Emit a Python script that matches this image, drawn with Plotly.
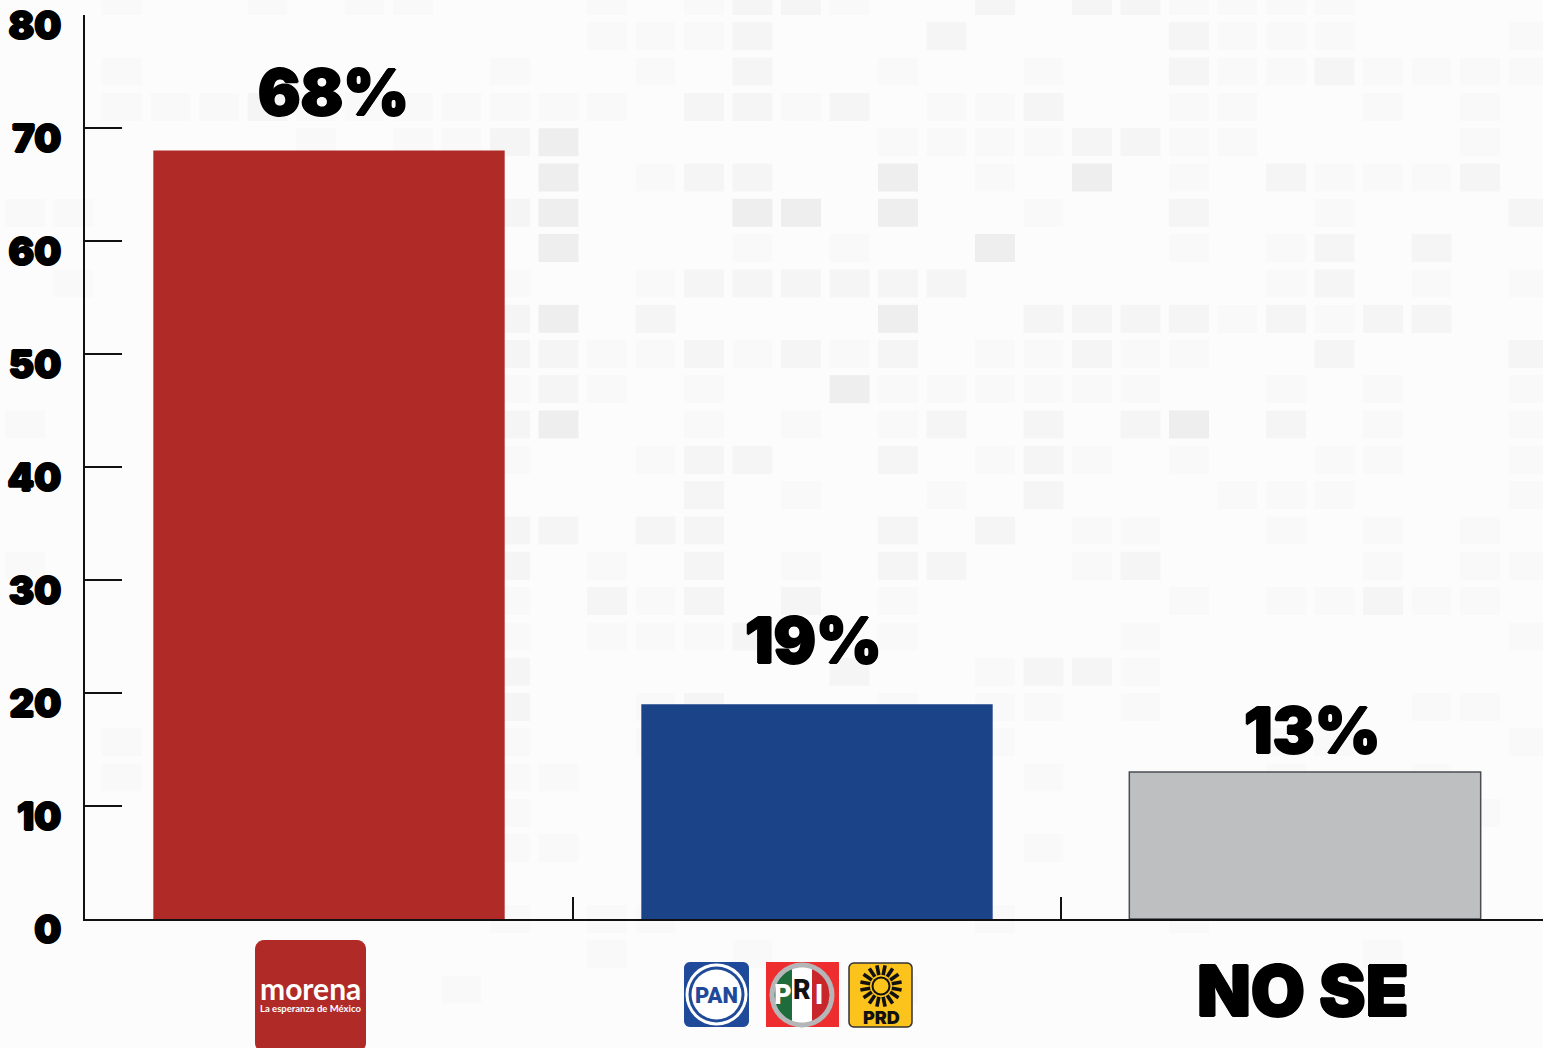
import math
import plotly.graph_objects as go

W, H = 1543, 1048
categories = ["morena", "PAN PRI PRD", "NO SE"]
values = [68, 19, 13]
labels = ["68%", "19%", "13%"]
bar_colors = ["#B02A27", "#1B4388", "#BEBFC1"]
y_ticks = [0, 10, 20, 30, 40, 50, 60, 70, 80]

# faint paper texture: one string per row, one digit per cell (0 = none, 3 = darkest)
texture = [
    "00100101100010122100202211110000",
    "00000000000011120002000021110001",
    "00100000001001020010010021121111",
    "00111211111110221201120011001010",
    "00000010112300000011112211000010",
    "00000000000301220030103010211120",
    "11000000002300033030010020010002",
    "00000000000300010100300010120200",
    "01000000001001222222000000120101",
    "00000000012302000030022221212200",
    "00000000012211212120112110020002",
    "00000000011210100311111100101001",
    "10000000002300101012020230201001",
    "00000000001001220020121010011001",
    "00000000000000201001020001110001",
    "00000000002202200020201100101010",
    "10000000012010201022001200001011",
    "00000000011021202010000010112110",
    "00000000001011120010000100000001",
    "00000000002000000200122100000000",
    "00000000002001200010110100000110",
    "00100000001001201010100000110001",
    "00100000001100110112010000100100",
    "00000000001000100001000000110010",
    "00000000001100000100010000000000",
    "00000000000000000000000000000000",
    "00000000001011000000100010000000",
    "00000000000010010000000000001000",
    "00000000010000100010000001000000",
    "00000000000000000000000000000000",
]
shades = {"1": "#F9F9F9", "2": "#F5F5F5", "3": "#EEEEEE"}

FONT = "Inter"
BLACK = "#000000"
HEAVY = "#000 1px 0 0, #000 -1px 0 0, #000 0 1px 0, #000 0 -1px 0"


def px(x):
    return x / W


def py(y):
    return 1 - y / H


def poly(points, fill, line=None, lw=0):
    d = "M " + " L ".join(f"{px(x):.5f},{py(y):.5f}" for x, y in points) + " Z"
    return dict(type="path", xref="paper", yref="paper", path=d, fillcolor=fill,
                line=dict(color=line or fill, width=lw), layer="above")


def round_rect(x0, y0, x1, y1, r, fill, line=None, lw=0):
    pts = []
    for cx, cy, a0 in [(x1 - r, y0 + r, -90), (x1 - r, y1 - r, 0), (x0 + r, y1 - r, 90), (x0 + r, y0 + r, 180)]:
        for k in range(7):
            a = math.radians(a0 + 15 * k)
            pts.append((cx + r * math.cos(a), cy + r * math.sin(a)))
    return poly(pts, fill, line, lw)


def disc(cx, cy, r, fill):
    return dict(type="circle", xref="paper", yref="paper", x0=px(cx - r), x1=px(cx + r),
                y0=py(cy + r), y1=py(cy - r), fillcolor=fill, line=dict(width=0), layer="above")


def chord(cx, cy, r, xa, xb, fill):
    n = 16
    pts = []
    for i in range(n + 1):
        x = xa + (xb - xa) * i / n
        pts.append((x, cy - math.sqrt(max(r * r - (x - cx) ** 2, 0))))
    for i in range(n + 1):
        x = xb - (xb - xa) * i / n
        pts.append((x, cy + math.sqrt(max(r * r - (x - cx) ** 2, 0))))
    return poly(pts, fill)


def note(text, x, y, size, color=BLACK, weight=900, family=FONT, shadow=None):
    return dict(text=text, x=px(x), y=py(y), xref="paper", yref="paper", showarrow=False,
                xanchor="center", yanchor="middle",
                font=dict(family=family, size=size, color=color, weight=weight,
                          shadow=shadow or "none"))


shapes = []
for r, row in enumerate(texture):
    for c, ch in enumerate(row):
        if ch in shades:
            cx, cy = 25 + 48.5 * c, 1 + 35.3 * r
            shapes.append(dict(type="rect", xref="paper", yref="paper", layer="below",
                               x0=px(cx - 20), x1=px(cx + 20), y0=py(cy + 14), y1=py(cy - 14),
                               fillcolor=shades[ch], line=dict(width=0)))

# morena logo
shapes.append(round_rect(255, 940, 366, 1052, 9, "#B02A27"))
# PAN logo
shapes.append(round_rect(684, 962, 749, 1027, 6, "#1F4A9A"))
shapes.append(disc(716.5, 994.5, 31, "#FFFFFF"))
shapes.append(disc(716.5, 994.5, 28, "#1F4A9A"))
shapes.append(disc(716.5, 994.5, 25, "#FFFFFF"))
# PRI logo
shapes.append(dict(type="rect", xref="paper", yref="paper", x0=px(766), x1=px(839), y0=py(1027), y1=py(962),
                   fillcolor="#EE2E2E", line=dict(width=0), layer="above"))
shapes.append(disc(802, 995, 32.5, "#B4B6B8"))
shapes.append(chord(802, 995, 27.5, 774.5, 792, "#1E6B3C"))
shapes.append(chord(802, 995, 27.5, 792, 812, "#FFFFFF"))
shapes.append(chord(802, 995, 27.5, 812, 829.5, "#C8262B"))
# PRD logo
shapes.append(round_rect(849, 963, 912, 1027, 5, "#FBC31C", "#333333", 1.5))
sun_x, sun_y = 881, 986
for k in range(16):
    a = 2 * math.pi * (k + 0.5) / 16
    ca, sa = math.cos(a), math.sin(a)
    na, nb = -sa * 1.8, ca * 1.8
    shapes.append(poly([(sun_x + 11 * ca + na, sun_y + 11 * sa + nb), (sun_x + 21 * ca + na, sun_y + 21 * sa + nb),
                        (sun_x + 21 * ca - na, sun_y + 21 * sa - nb), (sun_x + 11 * ca - na, sun_y + 11 * sa - nb)], "#111111"))
shapes.append(disc(sun_x, sun_y, 9.5, "#111111"))
shapes.append(disc(sun_x, sun_y, 7.5, "#FBC31C"))

annotations = [
    note(labels[0], 333, 92, 63, shadow=HEAVY),
    note(labels[1], 813, 640, 63, shadow=HEAVY),
    note(labels[2], 1312, 730, 63, shadow=HEAVY),
    note(categories[2], 1303, 990, 70, shadow=HEAVY),
    note("morena", 310, 988, 30, "#FFFFFF", 700, "Lato"),
    note("La esperanza de México", 310, 1008, 9.5, "#FFFFFF", 700, "Lato"),
    note("PAN", 716.5, 995, 22, "#1F4A9A", 900, "Roboto"),
    note("P", 783, 995, 27, "#FFFFFF", 900, "Roboto"),
    note("R", 802, 990, 27, "#111111", 900, "Roboto"),
    note("I", 819, 995, 27, "#FFFFFF", 900, "Roboto"),
    note("PRD", 881, 1017, 18, "#111111", 900, FONT),
]

fig = go.Figure(go.Bar(
    x=[0, 1, 2], y=values, width=0.72, customdata=categories,
    marker=dict(color=bar_colors,
                line=dict(color=["#B02A27", "#1B4388", "#4A4D52"], width=[0, 0, 1.5])),
))
fig.update_layout(
    width=W, height=H, margin=dict(l=0, r=0, t=0, b=0), autosize=False,
    paper_bgcolor="#FCFCFC", plot_bgcolor="rgba(0,0,0,0)", showlegend=False,
    shapes=shapes, annotations=annotations,
    xaxis=dict(automargin=False, domain=[85 / W, 1], range=[-0.5, 2.4877], tickmode="array",
               tickvals=[-0.5, 0.5, 1.5], ticktext=["", "", ""], ticks="inside", ticklen=22,
               tickwidth=2, tickcolor="#111111", showline=True, linecolor="#111111", linewidth=2.4,
               showgrid=False, zeroline=False),
    yaxis=dict(automargin=False, domain=[py(919), py(15)], range=[0, 80], tickmode="array", tickvals=y_ticks,
               ticks="inside", ticklen=37, tickwidth=2, tickcolor="#111111", showline=True,
               linecolor="#111111", linewidth=2.4, showgrid=False, zeroline=False,
               ticklabelstandoff=14, ticklabelshift=11,
               tickfont=dict(family=FONT, size=38, color=BLACK, weight=900, shadow=HEAVY)),
)
fig.write_html("out.html", config={"displayModeBar": False},
               post_script="document.body.style.margin='0';document.body.style.background='#FCFCFC';")
